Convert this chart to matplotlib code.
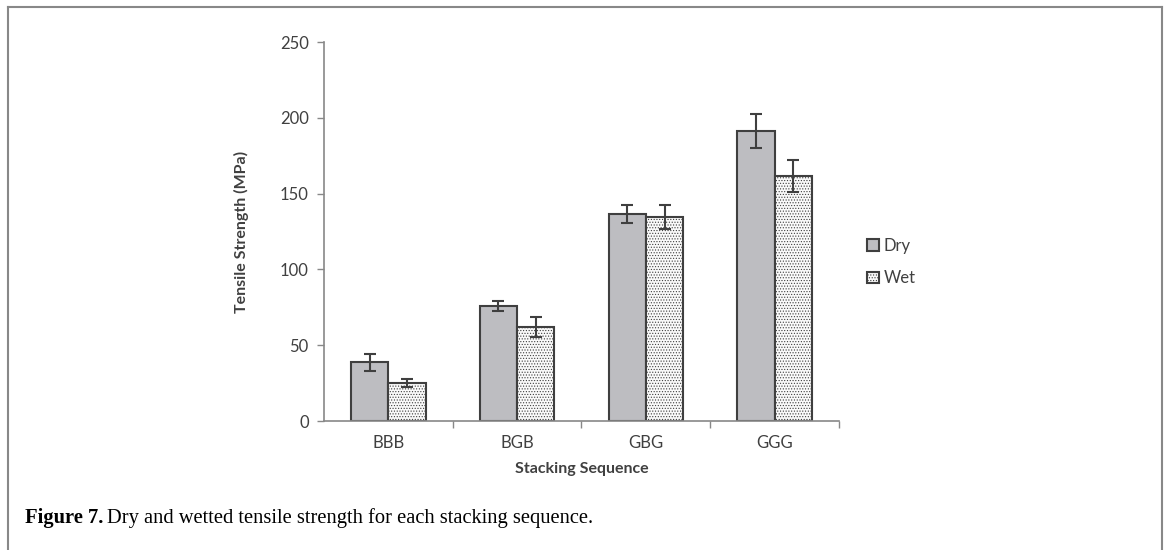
import matplotlib
matplotlib.use("Agg")
import matplotlib.pyplot as plt
from matplotlib.lines import Line2D
import numpy as np

# data
sequences = ["BBB", "BGB", "GBG", "GGG"]
dry = [38.7, 76.0, 136.8, 191.1]
dry_err = [5.8, 3.5, 6.0, 11.2]
wet = [25.1, 62.0, 134.6, 161.4]
wet_err = [2.6, 6.4, 8.0, 10.5]

plt.rcParams['font.family'] = ['Lato', 'DejaVu Sans']
plt.rcParams['hatch.color'] = '#dedede'
plt.rcParams['hatch.linewidth'] = 0.5

fig = plt.figure(figsize=(11.7, 5.5), dpi=100)
ax = fig.add_axes([0.2769, 0.2345, 0.4402, 0.6891])

x = np.arange(len(sequences))
w = 0.29
edge = '#3f3f3f'
ax.bar(x - w / 2, dry, w, color='#bdbdc1', edgecolor=edge, linewidth=1.5, label='Dry', zorder=2)
ax.bar(x + w / 2, wet, w, color='#f9f9f9', edgecolor=edge, linewidth=1.5, hatch='......', label='Wet', zorder=2)
ax.errorbar(x - w / 2, dry, yerr=dry_err, fmt='none', ecolor=edge, elinewidth=1.5, capsize=4, capthick=1.5, zorder=3)
ax.errorbar(x + w / 2, wet, yerr=wet_err, fmt='none', ecolor=edge, elinewidth=1.5, capsize=4, capthick=1.5, zorder=3)

ax.set_xlim(-0.5, len(sequences) - 0.5)
ax.set_ylim(0, 250)
ax.set_yticks(range(0, 251, 50))
ax.set_xticks(x)
ax.set_xticklabels(sequences)
ax.set_xticks(np.arange(0.5, len(sequences), 1), minor=True)
ax.tick_params(axis='x', which='major', length=0, pad=10)
ax.tick_params(axis='x', which='minor', length=5, width=1, color='#888888', direction='out')
ax.tick_params(axis='y', length=5, width=1, color='#888888', pad=6)
ax.tick_params(labelsize=12, labelcolor='#404040')

for s in ['top', 'right']:
    ax.spines[s].set_visible(False)
for s in ['left', 'bottom']:
    ax.spines[s].set_color('#888888')
    ax.spines[s].set_linewidth(1.2)

ax.set_ylabel('Tensile Strength (MPa)', fontsize=11.5, fontweight='bold', color='#404040', labelpad=22)
ax.set_xlabel('Stacking Sequence', fontsize=11.5, fontweight='bold', color='#404040', labelpad=8)

ax.legend(loc='center left', bbox_to_anchor=(1.025, 0.42), frameon=False, fontsize=12,
          handlelength=0.7, handleheight=0.7, handletextpad=0.3, labelspacing=1.0,
          labelcolor='#404040')

# page frame
fig.add_artist(Line2D([8 / 1170, 8 / 1170], [0, 1 - 7 / 550], transform=fig.transFigure, color='#888888', lw=1.5))
fig.add_artist(Line2D([8 / 1170, 1162 / 1170], [1 - 7 / 550, 1 - 7 / 550], transform=fig.transFigure, color='#888888', lw=1.5))
fig.add_artist(Line2D([1162 / 1170, 1162 / 1170], [0, 1 - 7 / 550], transform=fig.transFigure, color='#888888', lw=1.5))

# caption: bold lead-in followed by regular text
cy = 1 - 518 / 550
t1 = fig.text(25 / 1170, cy, 'Figure 7.', family='Liberation Serif', fontweight='bold', fontsize=14.8, va='center')
fig.canvas.draw()
bb = t1.get_window_extent()
fig.text((bb.x1 + 4) / 1170, cy, 'Dry and wetted tensile strength for each stacking sequence.',
         family='Liberation Serif', fontsize=14.8, va='center')

fig.savefig('out.png', dpi=100)
